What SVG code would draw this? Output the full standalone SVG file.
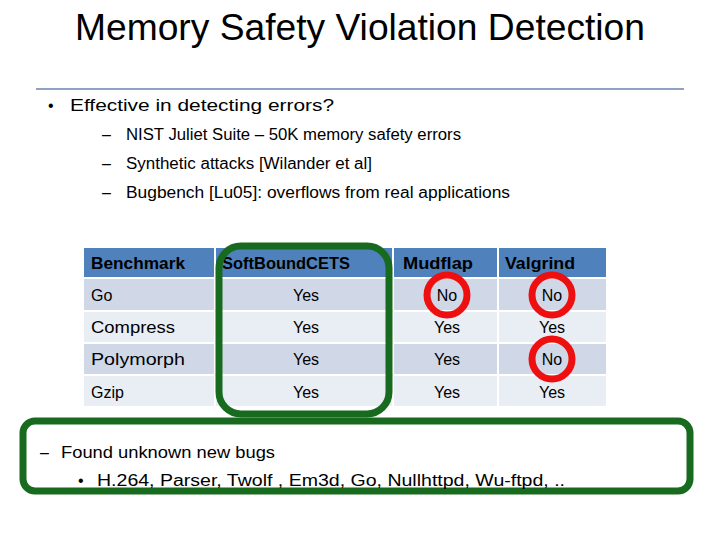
<svg xmlns="http://www.w3.org/2000/svg" width="720" height="540" viewBox="0 0 720 540">
<style>
text{font-family:"Liberation Sans","DejaVu Sans",sans-serif;fill:#000}
.b{font-size:16px}
.t{font-size:16px}
.h{font-size:16px;font-weight:bold}
.hd{fill:#4F81BD}
.r1{fill:#D0D8E8}
.r2{fill:#E9EDF4}
.g{fill:none;stroke:#186A1F;stroke-width:7}
.red{fill:none;stroke:#EE1010;stroke-width:7}
</style>
<rect width="720" height="540" fill="#fff"/>
<text x="360" y="40" font-size="36" text-anchor="middle" textLength="570" lengthAdjust="spacingAndGlyphs">Memory Safety Violation Detection</text>
<line x1="36" y1="89" x2="684" y2="89" stroke="#8FA3C0" stroke-width="2"/>
<g id="bullets">
<text x="48" y="111" class="b">•</text>
<text x="70" y="111" class="b" textLength="264" lengthAdjust="spacingAndGlyphs">Effective in detecting errors?</text>
<text x="102" y="140" class="b">–</text>
<text x="102" y="140" class="b" dx="0"></text>
<text x="126" y="140" class="b" textLength="335" lengthAdjust="spacingAndGlyphs">NIST Juliet Suite – 50K memory safety errors</text>
<text x="102" y="169" class="b">–</text>
<text x="126" y="169" class="b" textLength="246" lengthAdjust="spacingAndGlyphs">Synthetic attacks [Wilander et al]</text>
<text x="102" y="198" class="b">–</text>
<text x="126" y="198" class="b" textLength="384" lengthAdjust="spacingAndGlyphs">Bugbench [Lu05]: overflows from real applications</text>
</g>
<g id="table">
<rect x="84" y="248" width="130" height="29" class="hd"/>
<rect x="216" y="248" width="176" height="29" class="hd"/>
<rect x="394" y="248" width="103" height="29" class="hd"/>
<rect x="499" y="248" width="107" height="29" class="hd"/>
<g class="r1"><rect x="84" y="279" width="130" height="31"/><rect x="216" y="279" width="176" height="31"/><rect x="394" y="279" width="103" height="31"/><rect x="499" y="279" width="107" height="31"/></g>
<g class="r2"><rect x="84" y="312" width="130" height="30"/><rect x="216" y="312" width="176" height="30"/><rect x="394" y="312" width="103" height="30"/><rect x="499" y="312" width="107" height="30"/></g>
<g class="r1"><rect x="84" y="344" width="130" height="30"/><rect x="216" y="344" width="176" height="30"/><rect x="394" y="344" width="103" height="30"/><rect x="499" y="344" width="107" height="30"/></g>
<g class="r2"><rect x="84" y="376" width="130" height="30"/><rect x="216" y="376" width="176" height="30"/><rect x="394" y="376" width="103" height="30"/><rect x="499" y="376" width="107" height="30"/></g>
<text x="91" y="269" class="h" textLength="94" lengthAdjust="spacingAndGlyphs">Benchmark</text>
<text x="222" y="269" class="h" textLength="128" lengthAdjust="spacingAndGlyphs">SoftBoundCETS</text>
<text x="403" y="269" class="h" textLength="70" lengthAdjust="spacingAndGlyphs">Mudflap</text>
<text x="505" y="269" class="h" textLength="70" lengthAdjust="spacingAndGlyphs">Valgrind</text>
<text x="91" y="301" class="t">Go</text>
<text x="91" y="333" class="t" textLength="84" lengthAdjust="spacingAndGlyphs">Compress</text>
<text x="91" y="365" class="t" textLength="94" lengthAdjust="spacingAndGlyphs">Polymorph</text>
<text x="91" y="398" class="t">Gzip</text>
<g text-anchor="middle" class="t">
<text x="306" y="301" class="t">Yes</text><text x="447" y="301" class="t">No</text><text x="552" y="301" class="t">No</text>
<text x="306" y="333" class="t">Yes</text><text x="447" y="333" class="t">Yes</text><text x="552" y="333" class="t">Yes</text>
<text x="306" y="365" class="t">Yes</text><text x="447" y="365" class="t">Yes</text><text x="552" y="365" class="t">No</text>
<text x="306" y="398" class="t">Yes</text><text x="447" y="398" class="t">Yes</text><text x="552" y="398" class="t">Yes</text>
</g>
</g>
<g id="highlights">
<rect x="219" y="246" width="170" height="168" rx="22" class="g"/>
<circle cx="447" cy="295" r="20" class="red"/>
<circle cx="552" cy="295" r="20" class="red"/>
<circle cx="552" cy="359" r="20" class="red"/>
<rect x="23" y="421" width="667" height="70" rx="12" class="g"/>
</g>
<g id="bugs">
<text x="40" y="458" class="b">–</text>
<text x="61" y="458" class="b" textLength="214" lengthAdjust="spacingAndGlyphs">Found unknown new bugs</text>
<text x="78" y="486" class="b">•</text>
<text x="97" y="486" class="b" textLength="468" lengthAdjust="spacingAndGlyphs">H.264, Parser, Twolf , Em3d, Go, Nullhttpd, Wu-ftpd, ..</text>
</g>
</svg>
